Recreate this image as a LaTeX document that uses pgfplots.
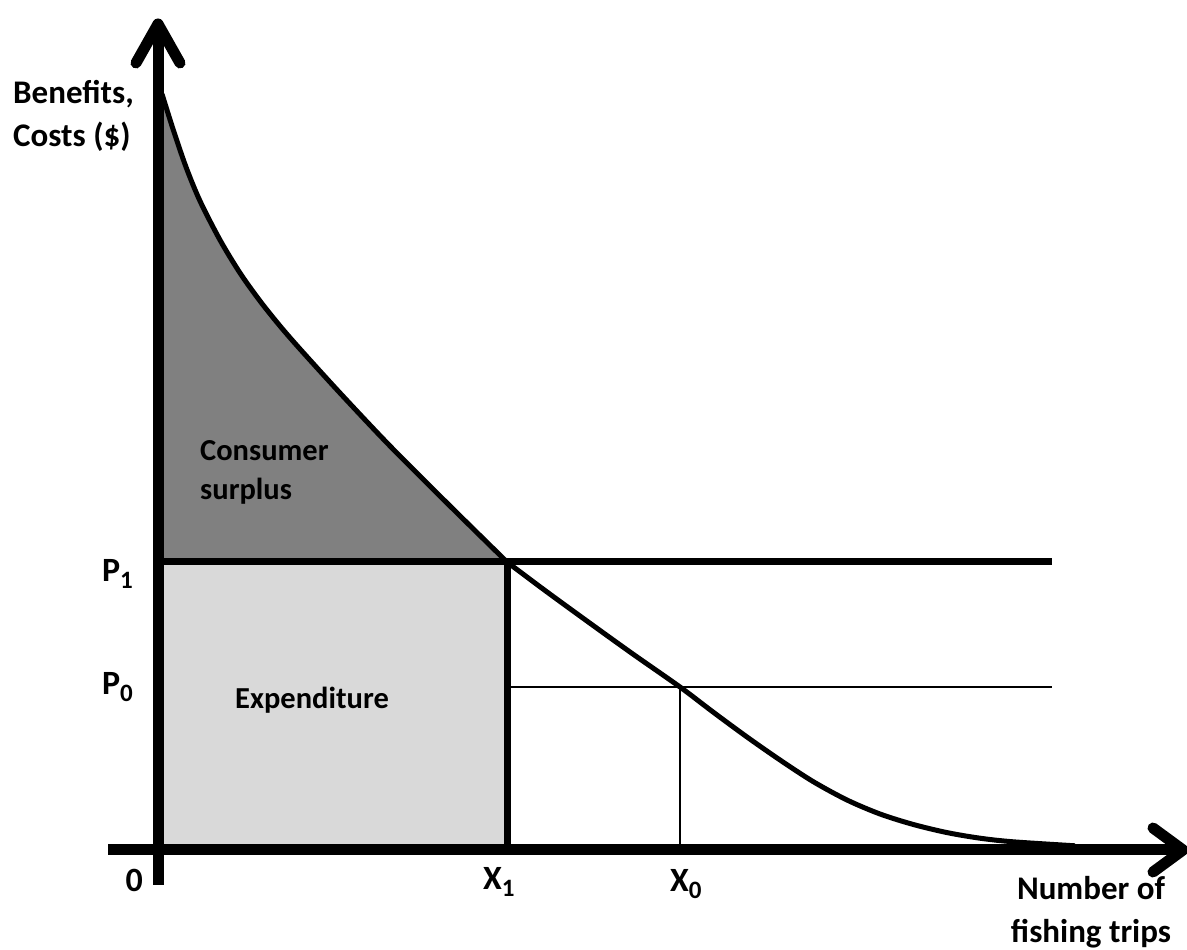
\documentclass[border=0pt]{standalone}
\usepackage{pgfplots}
\pgfplotsset{compat=1.18}
\usepgfplotslibrary{fillbetween}
\usepackage{fontspec}
\setmainfont{Carlito}
\definecolor{csgray}{HTML}{808080}
\definecolor{exgray}{HTML}{D9D9D9}
\newcommand{\lbl}[2]{#1\raisebox{-7pt}{\fontsize{25}{25}\selectfont #2}}
\begin{document}
\begin{tikzpicture}
\begin{axis}[x=1pt,y=1pt,xmin=-158,xmax=1029,ymin=-100,ymax=850,hide axis,clip=false]
% Expenditure rectangle
\addplot[fill=exgray,draw=none] coordinates {(0,0)(0,288)(349,288)(349,0)} \closedcycle;
% Consumer surplus
\addplot[name path=dem, draw=none, smooth] coordinates {
(4,756)(15,721)(28,683)(42,649)(62,610)(82,577)(102,549)(122,524)(142,501)
(182,457)(232,404)(292,344)(349,288)};
\addplot[name path=pone, draw=none] coordinates {(0,288)(349,288)};
\addplot[csgray] fill between[of=dem and pone];
% price and quantity lines
\addplot[line width=7pt] coordinates {(0,288)(894,288)};
\addplot[line width=7pt] coordinates {(349,0)(349,288)};
\addplot[line width=2pt] coordinates {(349,163)(894,163)};
\addplot[line width=2pt] coordinates {(522,0)(522,163)};
% demand curve
\addplot[line width=5pt, smooth] coordinates {
(4,756)(15,721)(28,683)(42,649)(62,610)(82,577)(102,549)(122,524)(142,501)
(182,457)(232,404)(292,344)(349,288)};
\addplot[line width=5pt, smooth] coordinates {
(349,288)(385,261)(422,234)(472,198)(522,163)(555,138)(589,113)(622,90)
(655,68.5)(689,50)(722,36)(755,25.6)(789,17.4)(822,11.8)(855,8.2)(917,4.2)};
% axes
\addplot[line width=11pt] coordinates {(0,-35)(0,822)};
\addplot[line width=11pt, line cap=round, line join=round] coordinates {(-22,787)(0,826)(22,787)};
\addplot[line width=11pt] coordinates {(-50,0)(1020,0)};
\addplot[line width=11pt, line cap=round, line join=round] coordinates {(995,22)(1025,0)(995,-22)};
% labels
\node[anchor=west, align=left, inner sep=0, font=\fontsize{33}{43}\selectfont\bfseries] at (axis cs:-145,734) {Benefits,\\Costs (\$)};
\node[anchor=west, align=left, inner sep=0, font=\fontsize{30.5}{39}\selectfont\bfseries] at (axis cs:42,378) {Consumer\\surplus};
\node[anchor=west, inner sep=0, font=\fontsize{30.5}{39}\selectfont\bfseries] at (axis cs:77,150) {Expenditure};
\node[anchor=base east, inner sep=0, font=\fontsize{34}{34}\selectfont\bfseries] at (axis cs:-25,268) {\lbl{P}{1}};
\node[anchor=base east, inner sep=0, font=\fontsize{34}{34}\selectfont\bfseries] at (axis cs:-25,155) {\lbl{P}{0}};
\node[anchor=base east, inner sep=0, font=\fontsize{34}{34}\selectfont\bfseries] at (axis cs:-15,-42) {0};
\node[anchor=base west, inner sep=0, font=\fontsize{34}{34}\selectfont\bfseries] at (axis cs:325,-40) {\lbl{X}{1}};
\node[anchor=base west, inner sep=0, font=\fontsize{34}{34}\selectfont\bfseries] at (axis cs:512,-42) {\lbl{X}{0}};
\node[align=center, inner sep=0, font=\fontsize{33}{43}\selectfont\bfseries] at (axis cs:933,-62) {Number of\\fishing trips};
\end{axis}
\pgfresetboundingbox
\useasboundingbox (current axis.south west) rectangle (current axis.north east);
\end{tikzpicture}
\end{document}
